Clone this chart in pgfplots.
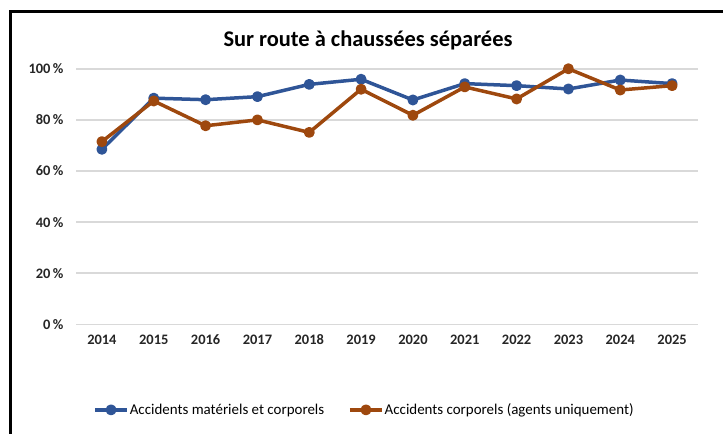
\documentclass[border=0pt]{standalone}
\usepackage{pgfplots}
\pgfplotsset{compat=1.18}
\usepackage{fontspec}
\setmainfont{Carlito}
\definecolor{cblue}{HTML}{2F5597}
\definecolor{cbrown}{HTML}{9E480E}
\definecolor{cgrid}{HTML}{D9D9D9}
\begin{document}
\begin{tikzpicture}[x=1bp,y=1bp]
\useasboundingbox (0,0) rectangle (723,434);
\draw[line width=3bp, black] (10,0) -- (10,422.5) -- (723,422.5);
\node[font=\fontsize{22.5}{26}\selectfont\bfseries] at (368,394) {Sur route à chaussées séparées};
\begin{axis}[
  at={(76bp,109.7bp)}, anchor=south west,
  scale only axis, width=622bp, height=255.5bp,
  xmin=-0.5, xmax=11.5, ymin=0, ymax=100,
  xtick={0,...,11},
  xticklabels={2014,2015,2016,2017,2018,2019,2020,2021,2022,2023,2024,2025},
  ytick={0,20,40,60,80,100},
  yticklabels={0\,\%,20\,\%,40\,\%,60\,\%,80\,\%,100\,\%},
  major tick length=0pt,
  axis line style={draw=none},
  ymajorgrids, grid style={cgrid, line width=1.5bp},
  tick label style={font=\fontsize{14.5}{17}\selectfont\bfseries, text=black!85},
  xticklabel style={yshift=-7bp},
  yticklabel style={xshift=-9bp},
  legend style={at={(0.463,-0.335)}, anchor=center, draw=none, fill=none,
    font=\fontsize{15}{17}\selectfont, legend columns=2,
    nodes={inner xsep=1bp},
    /tikz/every even column/.append style={column sep=23bp},
    legend cell align=left, inner sep=0pt},
  legend image code/.code={\draw[#1, mark repeat=2, mark phase=2] plot coordinates {(0bp,0bp) (16bp,0bp) (32bp,0bp)};},
  clip=false,
]
\addplot[cblue, line width=3.5bp, line join=round, mark=*, mark size=3.7bp, mark options={solid}]
coordinates {(0,68.5) (1,88.5) (2,87.9) (3,89.1) (4,93.9) (5,95.9) (6,87.8) (7,94.2) (8,93.4) (9,92.1) (10,95.6) (11,94.2)};
\addlegendentry{Accidents matériels et corporels}
\addplot[cbrown, line width=3.5bp, line join=round, mark=*, mark size=3.7bp, mark options={solid}]
coordinates {(0,71.5) (1,87.4) (2,77.7) (3,80.0) (4,75.1) (5,92.0) (6,81.8) (7,92.9) (8,88.2) (9,100.0) (10,91.7) (11,93.4)};
\addlegendentry{Accidents corporels (agents uniquement)}
\end{axis}
\end{tikzpicture}
\end{document}
